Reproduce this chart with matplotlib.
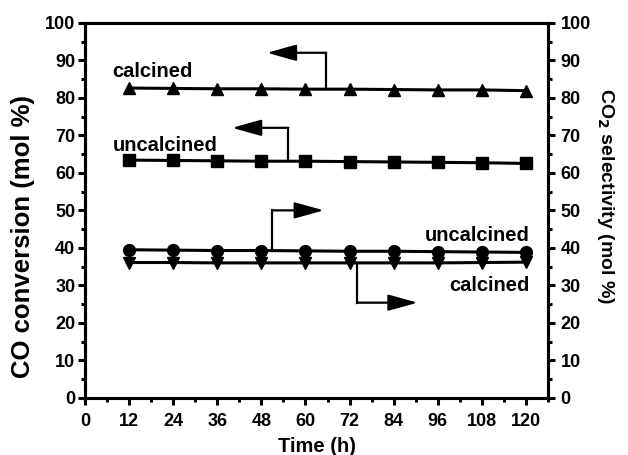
import matplotlib
matplotlib.use("Agg")
import matplotlib.pyplot as plt
from matplotlib.ticker import MultipleLocator
from matplotlib import font_manager

plt.rcParams['font.family'] = ['Liberation Sans', 'DejaVu Sans']
plt.rcParams['font.weight'] = 'bold'
plt.rcParams['mathtext.default'] = 'bf'

time_h = [12, 24, 36, 48, 60, 72, 84, 96, 108, 120]
conv_calcined = [82.6, 82.5, 82.4, 82.4, 82.3, 82.3, 82.2, 82.1, 82.1, 81.9]
conv_uncalcined = [63.4, 63.3, 63.2, 63.1, 63.1, 63.0, 62.9, 62.8, 62.7, 62.5]
sel_uncalcined = [39.5, 39.4, 39.3, 39.3, 39.2, 39.1, 39.1, 39.0, 38.9, 38.8]
sel_calcined = [36.1, 36.1, 36.0, 36.0, 36.0, 36.0, 36.0, 36.0, 36.1, 36.2]
x_ticks = [0, 12, 24, 36, 48, 60, 72, 84, 96, 108, 120]
y_ticks = [0, 10, 20, 30, 40, 50, 60, 70, 80, 90, 100]

installed = {f.name for f in font_manager.fontManager.ttflist}
if 'Liberation Sans Narrow' in installed:
    right_family, right_size = ['Liberation Sans Narrow', 'DejaVu Sans'], 16.0
else:
    right_family, right_size = ['Liberation Sans', 'DejaVu Sans'], 14.0

FS = 13
fig = plt.figure(figsize=(6.28, 4.55), dpi=100)
ax = fig.add_axes([0.1354, 0.1253, 0.7372, 0.8247])
ax2 = ax.twinx()

ax.plot(time_h, conv_calcined, color='black', lw=2.2, marker='^', ms=9, clip_on=False)
ax.plot(time_h, conv_uncalcined, color='black', lw=2.2, marker='s', ms=8, clip_on=False)
ax2.plot(time_h, sel_uncalcined, color='black', lw=2.2, marker='o', ms=8.5, clip_on=False)
ax2.plot(time_h, sel_calcined, color='black', lw=2.2, marker='v', ms=9, clip_on=False)

for a in (ax, ax2):
    a.set_xlim(0, 126)
    a.set_ylim(0, 100)
    for s in a.spines.values():
        s.set_linewidth(2.2)
    a.tick_params(axis='both', which='major', length=5, width=2.2, labelsize=FS, direction='out', pad=2)
    a.tick_params(axis='both', which='minor', length=3, width=2.2, direction='out')
    a.yaxis.set_minor_locator(MultipleLocator(5))
    a.set_yticks(y_ticks)
ax.tick_params(axis='x', pad=6)
ax2.tick_params(axis='y', pad=4)
ax.set_xticks(x_ticks)
ax.xaxis.set_minor_locator(MultipleLocator(6))
for lbl in ax.get_xticklabels() + ax.get_yticklabels() + ax2.get_yticklabels():
    lbl.set_fontweight('bold')

ax.set_xlabel('Time (h)', fontsize=14.5, fontweight='bold', va='center')
ax.xaxis.set_label_coords(0.501, -0.129)
ax.set_ylabel('CO conversion (mol %)', fontsize=18.5, fontweight='bold', va='center')
ax.yaxis.set_label_coords(-0.133, 0.430)
ax2.set_ylabel('CO$_2$ selectivity (mol %)', fontsize=right_size, family=right_family,
               fontweight='bold', rotation=270, va='center')
ax2.yaxis.set_label_coords(1.125, 0.537)

arrow_kw = dict(arrowstyle='-|>,head_length=1.8,head_width=0.5', color='black', lw=1.6, shrinkA=0, shrinkB=0)

def bent_arrow(a, x0, y0, y1, x1):
    a.plot([x0, x0], [y0, y1], color='black', lw=1.6)
    a.annotate('', xy=(x1, y1), xytext=(x0, y1), arrowprops=arrow_kw)

bent_arrow(ax, 65.6, 82.3, 92, 49.5)
bent_arrow(ax, 55.3, 63.1, 72, 40)
bent_arrow(ax2, 51, 39.3, 50, 65)
bent_arrow(ax2, 74, 36.0, 25.4, 90.5)

TS = 14.5
ax.text(7.4, 86.9, 'calcined', fontsize=TS, fontweight='bold', ha='left', va='center')
ax.text(7.6, 67.4, 'uncalcined', fontsize=TS, fontweight='bold', ha='left', va='center')
ax2.text(121.1, 43.4, 'uncalcined', fontsize=TS, fontweight='bold', ha='right', va='center')
ax2.text(121.1, 30.1, 'calcined', fontsize=TS, fontweight='bold', ha='right', va='center')

fig.savefig('out.png', dpi=100)
